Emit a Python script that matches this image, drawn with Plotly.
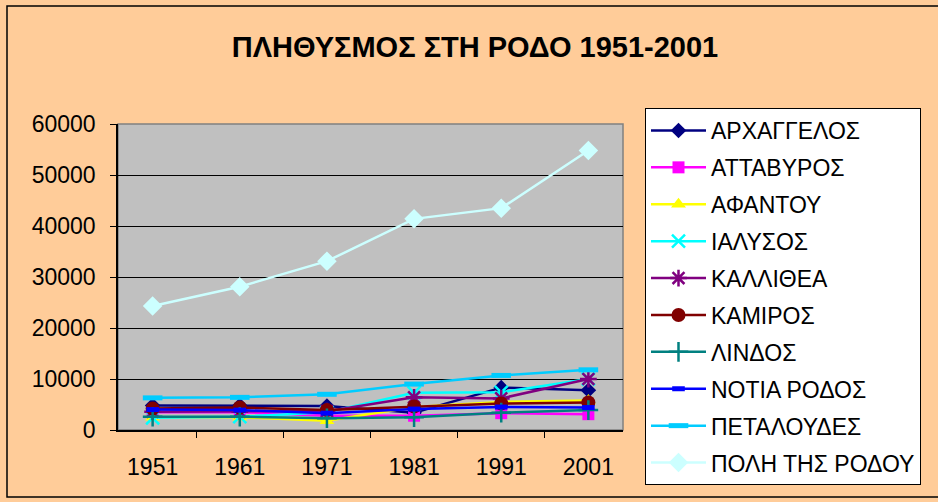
import plotly.graph_objects as go

years = ["1951", "1961", "1971", "1981", "1991", "2001"]

archangelos = [4800, 4800, 4700, 3400, 8300, 7800]
attavyros = [3500, 3500, 2800, 2800, 3300, 3100]
afantou = [2500, 2500, 1800, 4500, 5500, 5800]
ialysos = [2400, 2600, 3500, 7300, 7400, 10000]
kallithea = [3600, 3600, 3700, 6400, 6200, 10000]
kamiros = [4200, 4400, 3900, 4600, 5200, 5400]
lindos = [2600, 2600, 2300, 2500, 3400, 3900]
notia_rodos = [4000, 3900, 3300, 4100, 4500, 4400]
petaloudes = [6300, 6400, 7000, 9000, 10700, 11800]
poli_rodou = [24300, 28100, 33100, 41400, 43500, 54800]

names = ["ΑΡΧΑΓΓΕΛΟΣ", "ΑΤΤΑΒΥΡΟΣ", "ΑΦΑΝΤΟΥ", "ΙΑΛΥΣΟΣ", "ΚΑΛΛΙΘΕΑ",
         "ΚΑΜΙΡΟΣ", "ΛΙΝΔΟΣ", "ΝΟΤΙΑ ΡΟΔΟΣ", "ΠΕΤΑΛΟΥΔΕΣ", "ΠΟΛΗ ΤΗΣ ΡΟΔΟΥ"]
series = [archangelos, attavyros, afantou, ialysos, kallithea,
          kamiros, lindos, notia_rodos, petaloudes, poli_rodou]
colors = ["#000080", "#FF00FF", "#FFFF00", "#00FFFF", "#800080",
          "#800000", "#008080", "#0000FF", "#00CCFF", "#CCFFFF"]
symbols = ["diamond", "square", "triangle-up", "x-thin", "asterisk",
           "circle", "cross-thin", "line-ew", "line-ew", "diamond"]
sizes = [12, 12, 13, 13, 14, 14, 14, 9, 14, 15]

fig = go.Figure()
for i, (n, v) in enumerate(zip(names, series)):
    sym = symbols[i]
    open_sym = sym in ("x-thin", "asterisk", "cross-thin", "line-ew")
    marker = dict(symbol=sym, size=sizes[i], color=colors[i])
    if open_sym:
        marker["line"] = dict(color=colors[i], width=5 if sym == "line-ew" else 2.5)
    else:
        marker["line"] = dict(width=0)
    fig.add_trace(go.Scatter(
        x=years, y=v, name=n, mode="lines+markers",
        line=dict(color=colors[i], width=2.5),
        marker=marker, legendgroup=f"g{i}",
    ))

L, R, T, B = 118, 623, 124, 430
W, H = 938, 502
pw, ph = R - L, B - T

def px(x):
    return (x - L) / pw

def py(y):
    return (B - y) / ph

FONT = "Liberation Sans, Arial, sans-serif"

fig.update_layout(
    width=W, height=H,
    margin=dict(l=L, r=W - R, t=T, b=H - B, pad=0),
    paper_bgcolor="#FFCC99",
    plot_bgcolor="#C0C0C0",
    font=dict(family=FONT, size=23, color="#000000"),
    title=dict(text="<b>ΠΛΗΘΥΣΜΟΣ ΣΤΗ ΡΟΔΟ 1951-2001</b>",
               x=475 / W, xanchor="center", xref="container",
               y=1 - 47 / H, yanchor="middle", yref="container",
               font=dict(size=29, family=FONT)),
    showlegend=True,
    legend=dict(x=px(645), y=py(108), xanchor="left", yanchor="top",
                bgcolor="#FFFFFF", bordercolor="#000000", borderwidth=1,
                font=dict(size=23), itemwidth=55, tracegroupgap=4,
                itemsizing="trace", maxheight=480),
    shapes=[
        dict(type="rect", xref="paper", yref="paper",
             x0=px(7), x1=px(960), y0=py(497), y1=py(6),
             line=dict(color="#000000", width=1.5), layer="below"),
        dict(type="rect", xref="paper", yref="paper",
             x0=0, x1=1, y0=0, y1=1,
             line=dict(color="#808080", width=1.5), layer="below"),
    ],
)

fig.update_xaxes(
    type="category", showgrid=False, showline=True, linecolor="#000000", linewidth=1.5,
    ticks="outside", ticklen=6, tickcolor="#000000", tickson="boundaries",
    ticklabelstandoff=16, tickfont=dict(size=23),
)
fig.update_yaxes(
    range=[0, 60000], dtick=10000, tick0=0, showgrid=True, gridcolor="#000000",
    gridwidth=1, zeroline=False, showline=True, linecolor="#000000", linewidth=1.5,
    ticks="outside", ticklen=6, tickcolor="#000000", ticklabelstandoff=10,
    tickformat="d", tickfont=dict(size=23),
)

fig.write_html("out.html", config={"displayModeBar": False},
               post_script="document.body.style.margin='0';")
